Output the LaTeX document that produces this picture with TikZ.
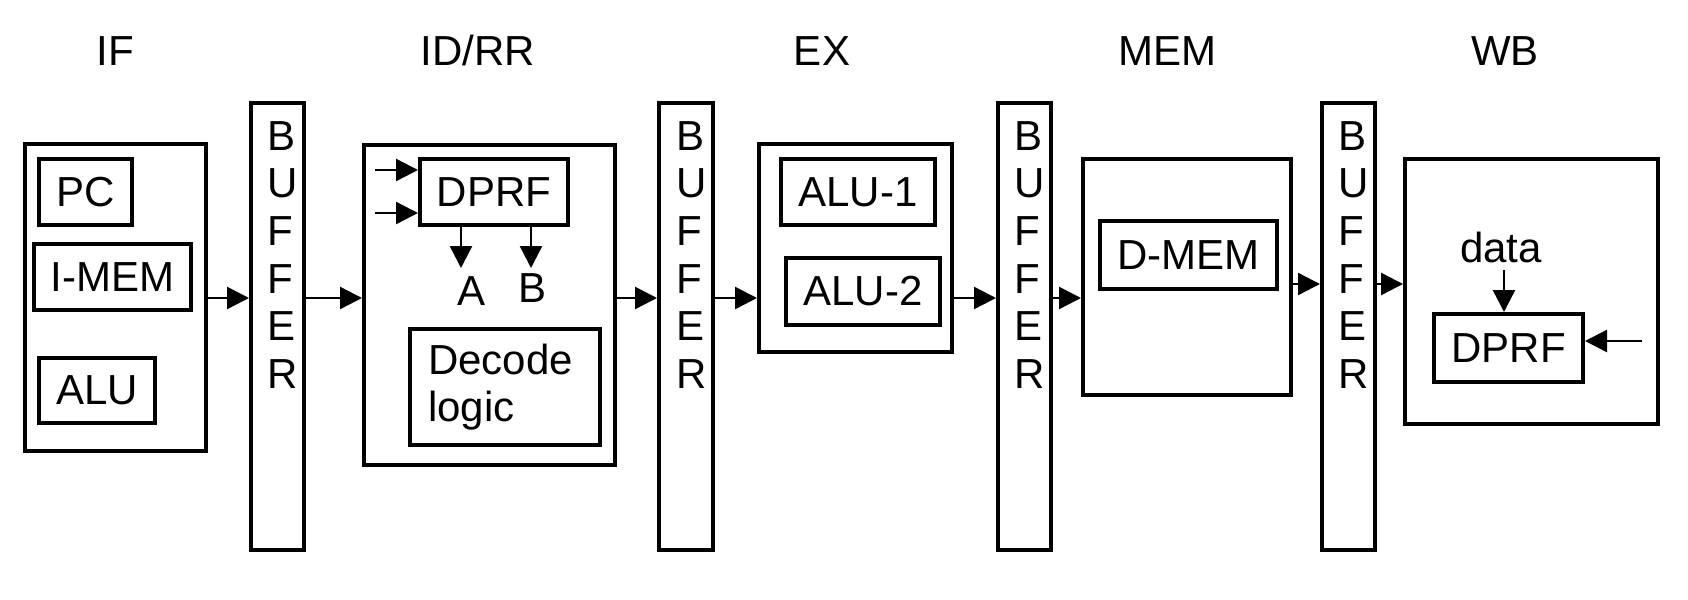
\documentclass[tikz,border=0pt]{standalone}
\usepackage{fontspec}
\setmainfont{Liberation Sans}
\usetikzlibrary{arrows.meta}

\begin{document}
\begin{tikzpicture}[x=0.5pt, y=-0.5pt,
    every node/.style={font=\fontsize{21}{19}\selectfont},
    blk/.style={draw, line width=2pt, inner sep=0pt},
    bufbox/.style={blk, minimum height=223.5pt},
    arr/.style={-{Triangle[length=11pt,width=11pt]}, line width=1.2pt}]
  \useasboundingbox (0,0) rectangle (1688,600);
  % stage titles
  \foreach \x/\t [count=\i] in {115/IF, 478/{ID/RR}, 822/EX, 1167/MEM, 1505/WB} {
    \node[anchor=base] (title\i) at (\x,65) {\t};
  }
  % pipeline buffers
  \foreach \n/\x/\w in {buf1/277.5/26.5, buf2/686/27, buf3/1024.5/26.5, buf4/1348.5/26.5} {
    \node[bufbox, minimum width=\w*1pt] (\n) at (\x,326.5) {};
    \foreach \l [count=\i from 0] in {B,U,F,F,E,R}
      \node[anchor=west, inner sep=0pt] (\n-\i) at (\x-10, 136+47.6*\i) {\l};
  }
  % IF
  \node[blk, minimum width=90.5pt, minimum height=153.5pt] (fetch) at (115.5,297.5) {};
  \node[blk, minimum width=46.5pt, minimum height=33pt] (pc) at (85.5,192) {PC};
  \node[blk, minimum width=78.5pt, minimum height=33pt] (imem) at (112.5,277) {I-MEM};
  \node[blk, minimum width=58pt, minimum height=32.5pt] (alu) at (97,390.5) {ALU};
  % ID/RR
  \node[blk, minimum width=125.5pt, minimum height=160pt] (idrr) at (489.5,305) {};
  \node[blk, minimum width=74pt, minimum height=33pt] (dprf1) at (494,192) {DPRF};
  \node[blk, minimum width=95pt, minimum height=58pt, text width=77pt, inner xsep=9pt,
        align=left, font=\fontsize{21}{23.5}\selectfont] (decode) at (505,387) {Decode\\logic};
  \node[anchor=base] (opa) at (472,305) {A};
  \node[anchor=base] (opb) at (533,302) {B};
  \coordinate (rin1) at (375,170);
  \coordinate (rin2) at (375,213);
  \coordinate (outa) at (461,268);
  \coordinate (outb) at (531,268);
  \draw[arr] (rin1) -- (rin1 -| dprf1.west);
  \draw[arr] (rin2) -- (rin2 -| dprf1.west);
  \draw[arr] (outa |- dprf1.south) -- (outa);
  \draw[arr] (outb |- dprf1.south) -- (outb);
  % EX
  \node[blk, minimum width=96.5pt, minimum height=104pt] (exe) at (855.5,248) {};
  \node[blk, minimum width=77pt, minimum height=33pt] (alu1) at (858,192) {ALU-1};
  \node[blk, minimum width=77pt, minimum height=33.5pt] (alu2) at (863,291.5) {ALU-2};
  % MEM
  \node[blk, minimum width=104pt, minimum height=118pt] (memst) at (1187,277) {};
  \node[blk, minimum width=88.5pt, minimum height=34pt] (dmem) at (1188.5,255) {D-MEM};
  % WB
  \node[blk, minimum width=126.5pt, minimum height=132.5pt] (wback) at (1531.5,291.5) {};
  \node[blk, minimum width=74.5pt, minimum height=34pt] (dprf2) at (1508.5,348) {DPRF};
  \node[anchor=base] (data) at (1501,262) {data};
  \coordinate (datain) at (1504,270);
  \coordinate (wbin) at (1642,341);
  \draw[arr] (datain) -- (datain |- dprf2.north);
  \draw[arr] (wbin) -- (wbin -| dprf2.east);
  % stage to stage
  \coordinate (lane) at (0,298);
  \coordinate (lane2) at (0,284);
  \foreach \a/\b in {fetch/buf1, buf1/idrr, idrr/buf2, buf2/exe, exe/buf3, buf3/memst}
    \draw[arr] (\a.east |- lane) -- (\b.west |- lane);
  \foreach \a/\b in {memst/buf4, buf4/wback}
    \draw[arr] (\a.east |- lane2) -- (\b.west |- lane2);
\end{tikzpicture}
\end{document}
